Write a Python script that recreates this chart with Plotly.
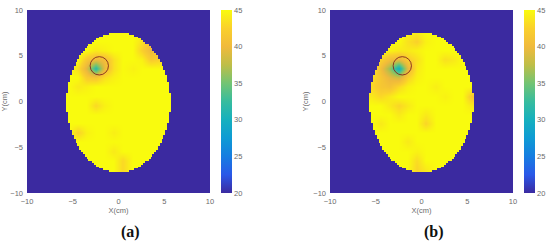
import numpy as np
import plotly.graph_objects as go

# sample grid (cm) of the temperature tables
grid_x = [-5.5, -4.5, -3.5, -2.5, -1.5, -0.5, 0.5, 1.5, 2.5, 3.5, 4.5, 5.5]
grid_y = [7.6, 6.6, 5.6, 4.6, 3.6, 2.6, 1.6, 0.6, -0.4, -1.4, -2.4, -3.4, -4.4, -5.4, -6.4, -7.4]

# panel (a) temperatures, rows top -> bottom
temp_a = [
    [45, 45, 45, 45, 45, 45, 45, 45, 45, 45, 45, 45],
    [45, 45, 45, 45, 45, 45, 45, 45, 43.5, 41, 45, 45],
    [45, 45, 45, 44, 44.5, 45, 45, 45, 42.5, 40, 42, 45],
    [45, 45, 41.5, 40, 40.5, 43.5, 45, 45, 44.5, 42, 42.5, 45],
    [45, 43.5, 39, 31.5, 40, 43.5, 45, 44.5, 45, 45, 45, 45],
    [45, 45, 42, 41.5, 43.5, 44.5, 45, 45, 45, 45, 45, 45],
    [45, 44, 44.5, 45, 45, 45, 45, 45, 45, 45, 45, 45],
    [45, 45, 45, 45, 45, 45, 45, 45, 45, 45, 45, 45],
    [45, 45, 45, 43, 44.5, 45, 45, 45, 45, 45, 45, 45],
    [45, 45, 45, 45, 45, 45, 45, 45, 45, 45, 45, 45],
    [45, 45, 45, 45, 45, 45, 45, 45, 45, 45, 45, 45],
    [45, 42.5, 44.5, 45, 45, 44.3, 45, 45, 45, 45, 45, 45],
    [45, 45, 45, 45, 45, 45, 45, 45, 45, 45, 45, 45],
    [45, 45, 45, 45, 45, 44, 45, 45, 45, 45, 45, 45],
    [45, 45, 45, 45, 45, 45, 43, 45, 45, 45, 45, 45],
    [45, 45, 45, 45, 45, 45, 43, 45, 45, 45, 45, 45],
]

# panel (b) temperatures, rows top -> bottom
temp_b = [
    [45, 45, 45, 45, 44.5, 44, 45, 45, 45, 45, 45, 45],
    [45, 45, 45, 45, 43.5, 42.5, 44.5, 45, 45, 45, 45, 45],
    [45, 45, 44.5, 44, 44, 44.5, 45, 45, 45, 45, 45, 45],
    [45, 42.5, 40.5, 39.5, 42, 43.5, 45, 45, 43.5, 44, 45, 45],
    [45, 40.5, 36, 29.5, 39.5, 44, 45, 45, 45, 45, 45, 45],
    [43.5, 41.5, 39.5, 38.5, 42.5, 44.5, 45, 45, 45, 45, 45, 45],
    [43, 41.5, 41, 43, 44.5, 45, 45, 44.3, 45, 45, 45, 45],
    [44, 43, 44, 45, 45, 45, 45, 45, 44.5, 45, 45, 41.5],
    [45, 45, 44, 42.8, 44, 45, 45, 45, 45, 45, 45, 44],
    [45, 45, 45, 44, 45, 45, 44, 45, 45, 45, 45, 45],
    [45, 44, 45, 45, 45, 45, 42.8, 45, 45, 45, 45, 45],
    [45, 45, 45, 45, 45, 45, 45, 45, 45, 45, 45, 45],
    [45, 45, 45, 45, 44, 45, 45, 45, 45, 45, 45, 45],
    [45, 45, 45, 45, 45, 44.5, 45, 45, 45, 45, 45, 45],
    [45, 45, 45, 45, 45, 43.2, 45, 45, 45, 45, 45, 45],
    [45, 45, 45, 45, 45, 42.8, 44, 45, 45, 45, 45, 45],
]

# imaging region (ellipse) and target circle, cm
ellipse_cx, ellipse_cy, ellipse_ax, ellipse_ay = 0.0, -0.1, 5.65, 7.67
target_x, target_y, target_r = -2.1, 3.9, 1.0
t_min, t_max = 20, 45
ticks = [-10, -5, 0, 5, 10]
cbar_ticks = [20, 25, 30, 35, 40, 45]
panel_labels = ["(a)", "(b)"]

parula = [
    [0.0, "rgb(59,42,160)"],
    [0.1, "rgb(42,88,232)"],
    [0.2, "rgb(22,125,225)"],
    [0.3, "rgb(14,155,212)"],
    [0.4, "rgb(22,176,190)"],
    [0.5, "rgb(55,188,158)"],
    [0.6, "rgb(115,196,115)"],
    [0.7, "rgb(190,190,72)"],
    [0.8, "rgb(240,186,60)"],
    [0.9, "rgb(250,208,44)"],
    [1.0, "rgb(249,251,14)"],
]
bg_blue = "rgb(59,42,160)"
grey = "#6b6b6b"

# mask outside the elliptical imaging region on a fine pixel grid
fine = np.linspace(-10, 10, 101)
fx, fy = np.meshgrid(fine, fine)
outside = ((fx - ellipse_cx) / ellipse_ax) ** 2 + ((fy - ellipse_cy) / ellipse_ay) ** 2 > 1
mask = np.where(outside, t_min, np.nan)

fig = go.Figure()
xdoms = [[27 / 550, 210 / 550], [330 / 550, 513 / 550]]
cbar_x = [221 / 550, 524 / 550]
label_x = [130 / 550, 434 / 550]
ydom = [(248 - 193) / 248, (248 - 10) / 248]

for i, temps in enumerate([temp_a, temp_b]):
    xa = "x" if i == 0 else "x2"
    ya = "y" if i == 0 else "y2"
    fig.add_trace(go.Heatmap(
        x=grid_x, y=grid_y[::-1], z=temps[::-1],
        zmin=t_min, zmax=t_max, colorscale=parula, zsmooth="best",
        xaxis=xa, yaxis=ya, hoverinfo="skip",
        colorbar=dict(
            x=cbar_x[i], xanchor="left", y=sum(ydom) / 2, yanchor="middle",
            len=183, lenmode="pixels", thickness=11, outlinewidth=0,
            tickvals=cbar_ticks, ticks="", xpad=0, ypad=0,
            tickfont=dict(size=7.5, color=grey, family="Liberation Sans"),
        ),
    ))
    fig.add_trace(go.Heatmap(
        x=fine, y=fine, z=mask, zmin=t_min, zmax=t_max, colorscale=parula,
        showscale=False, xaxis=xa, yaxis=ya, hoverinfo="skip",
    ))
    fig.add_shape(type="circle", xref=xa, yref=ya,
                  x0=target_x - target_r, x1=target_x + target_r,
                  y0=target_y - target_r, y1=target_y + target_r,
                  line=dict(color="rgba(130,40,30,0.9)", width=1))
    fig.add_annotation(text="<b>%s</b>" % panel_labels[i], xref="paper", yref="paper",
                       x=label_x[i], y=(248 - 232) / 248, xanchor="center", yanchor="middle",
                       showarrow=False,
                       font=dict(size=16, color="#111", family="Liberation Serif"))

axis_common = dict(range=[-10, 10], tickvals=ticks, ticks="", showgrid=False,
                   zeroline=False, showline=False, automargin=False,
                   tickfont=dict(size=7.5, color=grey, family="Liberation Sans"))
title_font = dict(size=7.5, color=grey, family="Liberation Sans")
fig.update_layout(
    width=550, height=248, margin=dict(l=0, r=0, t=0, b=0),
    paper_bgcolor="white", plot_bgcolor=bg_blue, showlegend=False,
    xaxis=dict(domain=xdoms[0], anchor="y", ticklabelstandoff=2,
               title=dict(text="X(cm)", font=title_font, standoff=2), **axis_common),
    yaxis=dict(domain=ydom, anchor="x", ticklabelstandoff=3,
               title=dict(text="Y(cm)", font=title_font, standoff=3), **axis_common),
    xaxis2=dict(domain=xdoms[1], anchor="y2", ticklabelstandoff=2,
                title=dict(text="X(cm)", font=title_font, standoff=2), **axis_common),
    yaxis2=dict(domain=ydom, anchor="x2", ticklabelstandoff=3,
                title=dict(text="Y(cm)", font=title_font, standoff=3), **axis_common),
)

# page body has a default 8px margin; drop it so the figure sits at the corner
fig.write_html("out.html", config={"displayModeBar": False},
               post_script="document.body.style.margin='0';")
